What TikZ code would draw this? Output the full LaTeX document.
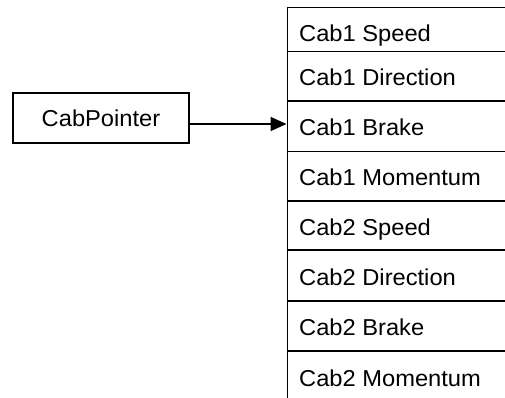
\documentclass[tikz,border=0pt]{standalone}
\usepackage{fontspec}
\setmainfont{Liberation Sans}[FakeStretch=1.03]
\usetikzlibrary{arrows.meta}
\begin{document}
\begin{tikzpicture}[x=1pt,y=-1pt,
  ln/.style={line width=1.7pt,black},
  cell/.style={ln,draw,fill=white},
  lbl/.style={anchor=base west,inner sep=0pt,font=\fontsize{23}{27}\selectfont},
  arr/.style={ln,-{Triangle[length=16pt,width=14pt]},shorten >=1pt}]
\useasboundingbox (0,0) rectangle (505,397);
% cells of the table (right side runs off the page)
\path[cell] (287.5,7.5) rectangle (530,51.5) node[pos=0.5] (c1) {};
\path[cell] (287.5,51.5) rectangle (530,100.8) node[pos=0.5] (c2) {};
\path[cell] (287.5,100.8) rectangle (530,151.5) node[pos=0.5] (c3) {};
\path[cell] (287.5,151.5) rectangle (530,200.8) node[pos=0.5] (c4) {};
\path[cell] (287.5,200.8) rectangle (530,250.3) node[pos=0.5] (c5) {};
\path[cell] (287.5,250.3) rectangle (530,300.8) node[pos=0.5] (c6) {};
\path[cell] (287.5,300.8) rectangle (530,350.8) node[pos=0.5] (c7) {};
\path[cell] (287.5,350.8) rectangle (530,420) node[pos=0.5] (c8) {};
\coordinate (c3w) at (287.5,124);
% labels
\node[lbl] (t1) at (299,41.7) {Cab1 Speed};
\node[lbl] (t2) at (299,85) {Cab1 Direction};
\node[lbl] (t3) at (299,135) {Cab1 Brake};
\node[lbl] (t4) at (299,185) {Cab1 Momentum};
\node[lbl] (t5) at (299,235) {Cab2 Speed};
\node[lbl] (t6) at (299,285) {Cab2 Direction};
\node[lbl] (t7) at (299,335) {Cab2 Brake};
\node[lbl] (t8) at (299,386) {Cab2 Momentum};
% pointer box
\node[ln,draw,minimum width=176pt,minimum height=50pt,inner sep=0pt,
      font=\fontsize{23}{27}\selectfont] (ptr) at (101,118) {CabPointer};
\draw[arr] (ptr.east |- c3w) -- (c3w);
\end{tikzpicture}
\end{document}
